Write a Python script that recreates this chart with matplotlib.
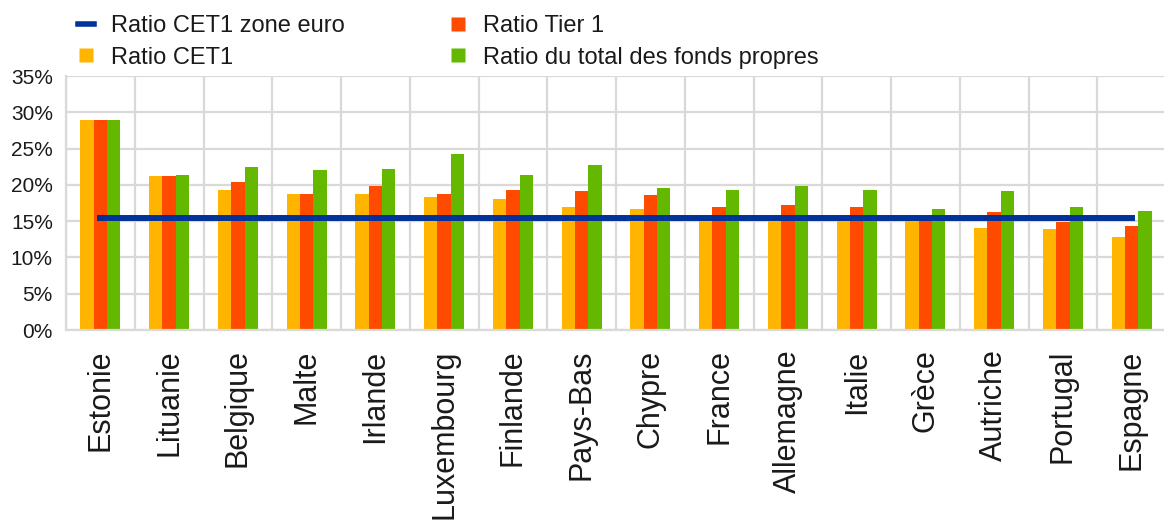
import matplotlib
matplotlib.use("Agg")
import matplotlib.pyplot as plt
import numpy as np
from matplotlib.lines import Line2D
from matplotlib.ticker import FixedLocator, PercentFormatter

plt.rcParams['font.family'] = ['Liberation Sans', 'DejaVu Sans']

countries = ["Estonie", "Lituanie", "Belgique", "Malte", "Irlande", "Luxembourg",
             "Finlande", "Pays-Bas", "Chypre", "France", "Allemagne", "Italie",
             "Grèce", "Autriche", "Portugal", "Espagne"]
cet1 = [29.0, 21.2, 19.35, 18.8, 18.8, 18.3, 18.0, 17.0, 16.7, 15.4, 15.4, 15.4,
        15.4, 14.1, 13.85, 12.8]
tier1 = [29.0, 21.2, 20.4, 18.8, 19.9, 18.8, 19.35, 19.1, 18.6, 17.0, 17.2, 17.0,
         15.6, 16.2, 14.9, 14.35]
total = [29.0, 21.4, 22.5, 22.0, 22.2, 24.3, 21.4, 22.7, 19.6, 19.35, 19.9, 19.35,
         16.7, 19.1, 17.0, 16.45]
euro_cet1 = 15.5

labels = ["Ratio CET1 zone euro", "Ratio CET1", "Ratio Tier 1",
          "Ratio du total des fonds propres"]
yticks = [0, 5, 10, 15, 20, 25, 30, 35]

c_blue = "#003299"
c_yellow = "#FFB400"
c_red = "#FF4B00"
c_green = "#65B800"
grid_c = "#d9d9d9"
txt_c = "#1a1a1a"

W, H = 1164, 521
fig = plt.figure(figsize=(W / 100, H / 100), dpi=100)
ax = fig.add_axes([66 / W, 1 - 330 / H, 1100 / W, (330 - 76) / H])

x = np.arange(len(countries))
bw = 0.195
ax.bar(x - bw, cet1, bw, color=c_yellow, edgecolor="none", zorder=2)
ax.bar(x, tier1, bw, color=c_red, edgecolor="none", zorder=2)
ax.bar(x + bw, total, bw, color=c_green, edgecolor="none", zorder=2)
ax.plot([x[0], x[-1]], [euro_cet1, euro_cet1], color=c_blue, lw=4.3,
        solid_capstyle="projecting", zorder=3)

ax.set_xlim(-0.5, len(countries) - 0.5)
ax.set_ylim(0, 35)
ax.yaxis.set_major_locator(FixedLocator(yticks))
ax.yaxis.set_major_formatter(PercentFormatter(decimals=0))
ax.set_xticks(x)
ax.set_xticklabels(countries, rotation=90, fontsize=22, color=txt_c)
ax.xaxis.set_minor_locator(FixedLocator(np.arange(-0.5, len(countries), 1.0)))
ax.tick_params(axis="x", which="both", length=0, pad=14)
ax.tick_params(axis="y", length=0, labelsize=15, labelcolor=txt_c, pad=9.5)
ax.grid(axis="y", which="major", color=grid_c, lw=1.6, zorder=0)
ax.grid(axis="x", which="minor", color=grid_c, lw=1.6, zorder=0)
ax.grid(axis="x", which="major", visible=False)
for s in ["top", "right"]:
    ax.spines[s].set_visible(False)
for s in ["left", "bottom"]:
    ax.spines[s].set_color(grid_c)
    ax.spines[s].set_linewidth(1.6)
ax.set_axisbelow(True)

handles = [
    Line2D([0], [0], color=c_blue, lw=4),
    Line2D([0], [0], marker="s", color="none", markerfacecolor=c_yellow,
           markeredgecolor="none", markersize=9.5),
    Line2D([0], [0], marker="s", color="none", markerfacecolor=c_red,
           markeredgecolor="none", markersize=9.5),
    Line2D([0], [0], marker="s", color="none", markerfacecolor=c_green,
           markeredgecolor="none", markersize=9.5),
]
leg = fig.legend(handles, labels, ncol=2, loc="upper left",
                 bbox_to_anchor=(66 / W, 1 - 3 / H), frameon=False,
                 fontsize=17, handlelength=0.7, handletextpad=0.7,
                 columnspacing=4.45, labelspacing=0.42, borderpad=0)
for t in leg.get_texts():
    t.set_color(txt_c)

fig.savefig("out.png", dpi=100)
